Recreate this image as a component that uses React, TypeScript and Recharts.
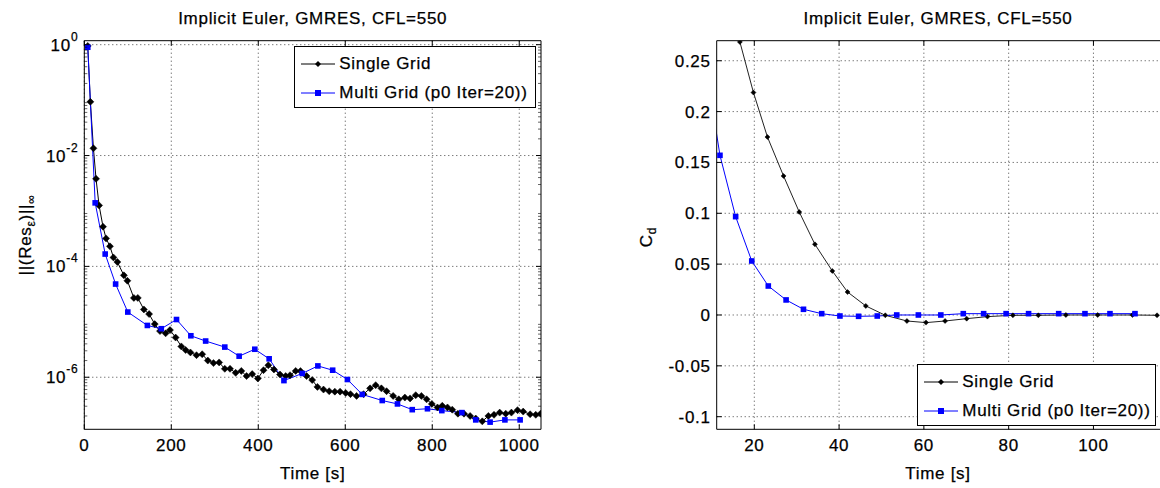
import React from "react";
import { LineChart, Line, XAxis, YAxis, CartesianGrid, Legend } from "recharts";

const FONT = "'Liberation Sans', Arial, Helvetica, sans-serif";
const LS = 0.7;

// ---- left panel: residual history ----
const singleResTime = [8, 14, 21, 27, 34, 43, 50, 59, 67, 76, 91, 99, 114, 123, 137, 149, 162, 174, 187, 197, 210, 223, 233, 244, 258, 271, 284, 297, 310, 323, 335, 348, 361, 373, 386, 399, 412, 423, 436, 450, 463, 473, 486, 497, 511, 524, 536, 550, 563, 576, 588, 601, 612, 626, 642, 657, 670, 683, 695, 710, 723, 737, 749, 762, 775, 787, 799, 812, 823, 835, 846, 859, 873, 887, 900, 915, 929, 942, 955, 969, 982, 996, 1009, 1025, 1038, 1049];
const singleResValue = [0.95, 9.3e-2, 1.35e-2, 3.8e-3, 1.26e-3, 5.2e-4, 3.2e-4, 2.3e-4, 1.45e-4, 1.2e-4, 6.9e-5, 5.5e-5, 2.7e-5, 2.7e-5, 1.67e-5, 1.38e-5, 9.1e-6, 6.8e-6, 6.2e-6, 7.1e-6, 5.2e-6, 3.6e-6, 3.1e-6, 2.8e-6, 2.5e-6, 2.6e-6, 2.0e-6, 1.8e-6, 1.85e-6, 1.42e-6, 1.42e-6, 1.2e-6, 1.3e-6, 1.05e-6, 1.14e-6, 9.5e-7, 1.34e-6, 1.65e-6, 1.38e-6, 1.12e-6, 1.05e-6, 1.09e-6, 1.3e-6, 1.29e-6, 1.05e-6, 8.9e-7, 6.7e-7, 6.0e-7, 5.6e-7, 5.5e-7, 5.5e-7, 5.2e-7, 4.95e-7, 4.6e-7, 4.95e-7, 6.3e-7, 7.2e-7, 6.3e-7, 5.6e-7, 4.6e-7, 4.0e-7, 4.3e-7, 4.15e-7, 4.75e-7, 4.6e-7, 4.0e-7, 3.3e-7, 2.85e-7, 3.05e-7, 2.85e-7, 2.6e-7, 2.2e-7, 2.2e-7, 2.0e-7, 1.8e-7, 1.6e-7, 2.0e-7, 2.1e-7, 2.3e-7, 2.2e-7, 2.3e-7, 2.55e-7, 2.4e-7, 2.15e-7, 2.1e-7, 2.2e-7];

const multiResTime = [8, 25, 48, 72, 100, 145, 177, 212, 245, 279, 323, 356, 392, 425, 459, 501, 537, 571, 605, 639, 685, 720, 754, 789, 822, 868, 900, 933, 967, 1002];
const multiResValue = [0.9, 1.4e-3, 1.67e-4, 4.8e-5, 1.5e-5, 8.6e-6, 7.5e-6, 1.1e-5, 5.6e-6, 4.5e-6, 3.5e-6, 2.4e-6, 3.2e-6, 2.15e-6, 8.7e-7, 1.17e-6, 1.6e-6, 1.34e-6, 9.1e-7, 4.9e-7, 3.8e-7, 3.3e-7, 2.6e-7, 2.7e-7, 2.5e-7, 2.3e-7, 1.7e-7, 1.55e-7, 1.7e-7, 1.7e-7];

const resMajorTicks = [1e-6, 1e-4, 1e-2, 1];
const resMinorFactors = [2, 3, 4, 5, 6, 7, 8, 9];
const resDecades = [1e-7, 1e-6, 1e-5, 1e-4, 1e-3, 1e-2, 1e-1];
const resTimeTicks = [0, 200, 400, 600, 800, 1000];

// ---- right panel: drag coefficient ----
const singleCdTime = [16.6, 19.8, 23.1, 26.9, 30.6, 34.3, 38.4, 42.0, 46.3, 50.9, 56.0, 60.5, 65.0, 70.1, 75.0, 81.0, 87.0, 93.5, 101, 109.2, 115];
const singleCdValue = [0.2685, 0.2187, 0.175, 0.1367, 0.1013, 0.0695, 0.0433, 0.0226, 0.0089, -0.0003, -0.0059, -0.0075, -0.0059, -0.0036, -0.0016, -0.0003, -0.0003, 0, 0, 0, -0.0003];

const multiCdTime = [8.2, 11.9, 15.6, 19.4, 23.3, 27.5, 31.6, 35.9, 40.2, 44.6, 49.0, 53.6, 58.7, 64.0, 69.3, 74.1, 79.4, 84.7, 91.8, 98.0, 103.9, 109.8];
const multiCdValue = [0.255, 0.157, 0.0967, 0.0531, 0.0285, 0.0148, 0.0056, 0.0013, -0.001, -0.0013, -0.001, 0, 0, 0, 0.0013, 0.0013, 0.0013, 0.0013, 0.0013, 0.0013, 0.0013, 0.0013];

const cdTicks = [-0.1, -0.05, 0, 0.05, 0.1, 0.15, 0.2, 0.25];
const cdTimeTicks = [20, 40, 60, 80, 100];

const SERIES_SINGLE = "Single Grid";
const SERIES_MULTI = "Multi Grid (p0 Iter=20))";
const SERIES_ORDER = [SERIES_SINGLE, SERIES_MULTI];
const BLUE = "#0000ff";

const zip = (ts: number[], vs: number[]) => ts.map((t, i) => ({ t, v: vs[i] }));
const singleRes = zip(singleResTime, singleResValue);
const multiRes = zip(multiResTime, multiResValue);
const singleCd = zip(singleCdTime, singleCdValue);
const multiCd = zip(multiCdTime, multiCdValue);

const resMinorTicks = resDecades.flatMap((d) => resMinorFactors.map((f) => f * d)).filter((v) => v > 1.15e-7 && v < 1.18);
const resAllTicks = [...resMajorTicks, ...resMinorTicks].sort((a, b) => a - b);
const isMajor = (v: number) => resMajorTicks.some((m) => Math.abs(m - v) / m < 1e-9);

const diamondDot = (r: number, color: string) => (p: any) => {
  const { cx, cy, index } = p;
  if (cx == null || cy == null) return <g key={index} />;
  return <path key={index} d={`M${cx},${cy - r}L${cx + r},${cy}L${cx},${cy + r}L${cx - r},${cy}Z`} fill={color} stroke={color} strokeWidth={0.5} />;
};
const squareDot = (r: number, color: string) => (p: any) => {
  const { cx, cy, index } = p;
  if (cx == null || cy == null) return <g key={index} />;
  return <rect key={index} x={cx - r} y={cy - r} width={2 * r} height={2 * r} fill={color} />;
};

const textStyle = { fontFamily: FONT, fontSize: 17, letterSpacing: LS, fill: "#000", stroke: "#000", strokeWidth: 0.25 } as const;

// inward tick marks, MATLAB style
const BottomTick = (props: any) => {
  const { x, y, payload } = props;
  return (
    <g>
      <line x1={x} y1={y} x2={x} y2={y - 5} stroke="#000" />
      <text x={x} y={y + 22} textAnchor="middle" style={textStyle}>{payload.value}</text>
    </g>
  );
};
const TopTick = (props: any) => {
  const { x, y } = props;
  return <line x1={x} y1={y} x2={x} y2={y + 5} stroke="#000" />;
};
const LogLeftTick = (props: any) => {
  const { x, y, payload } = props;
  const v = payload.value;
  const major = isMajor(v);
  return (
    <g>
      <line x1={x} y1={y} x2={x + (major ? 5 : 3)} y2={y} stroke="#000" strokeOpacity={major ? 1 : 0.6} />
      {major && (
        <text x={x - 6} y={y + 6} textAnchor="end" style={textStyle}>
          10<tspan dy={-10} fontSize={12}>{Math.round(Math.log10(v))}</tspan>
        </text>
      )}
    </g>
  );
};
const LogRightTick = (props: any) => {
  const { x, y, payload } = props;
  const major = isMajor(payload.value);
  return <line x1={x} y1={y} x2={x - (major ? 5 : 3)} y2={y} stroke="#000" strokeOpacity={major ? 1 : 0.6} />;
};
const LinLeftTick = (props: any) => {
  const { x, y, payload } = props;
  return (
    <g>
      <line x1={x} y1={y} x2={x + 5} y2={y} stroke="#000" />
      <text x={x - 6} y={y + 6} textAnchor="end" style={textStyle}>{String(payload.value)}</text>
    </g>
  );
};

const LegendBox = (props: any) => {
  const items = [...(props.payload || [])].sort((a: any, b: any) => SERIES_ORDER.indexOf(a.value) - SERIES_ORDER.indexOf(b.value));
  return (
    <div style={{ width: "100%", height: "100%", boxSizing: "border-box", border: "1px solid #000", background: "#fff", paddingTop: 2, fontFamily: FONT, fontSize: 17, letterSpacing: LS, WebkitTextStroke: "0.25px #000" }}>
      {items.map((it: any) => {
        const multi = it.value === SERIES_MULTI;
        const color = multi ? BLUE : "#000";
        return (
          <div key={it.value} style={{ height: 29, display: "flex", alignItems: "center", paddingLeft: 6 }}>
            <svg width={38} height={12} style={{ flex: "none" }}>
              <line x1={0} y1={6} x2={34} y2={6} stroke={color} />
              {multi ? <rect x={14} y={3} width={6} height={6} fill={color} /> : <path d="M17,3L20,6L17,9L14,6Z" fill={color} />}
            </svg>
            <span style={{ whiteSpace: "nowrap" }}>{it.value}</span>
          </div>
        );
      })}
    </div>
  );
};

function ResidualChart() {
  return (
    <LineChart width={560} height={488} margin={{ top: 39.7, right: 18, bottom: 28.7, left: 24.3 }}>
      <CartesianGrid stroke="#444" strokeDasharray="1 3" horizontalValues={resMajorTicks} verticalValues={resTimeTicks} />
      <XAxis xAxisId={0} type="number" dataKey="t" domain={[0, 1050]} allowDataOverflow ticks={resTimeTicks} interval={0} height={30} tickSize={0} tickMargin={0} tickLine={false} axisLine={{ stroke: "#000" }} tick={BottomTick} />
      <XAxis xAxisId="top" orientation="top" type="number" dataKey="t" domain={[0, 1050]} allowDataOverflow ticks={resTimeTicks} interval={0} height={1} tickSize={0} tickMargin={0} tickLine={false} axisLine={{ stroke: "#000" }} tick={TopTick} />
      <YAxis yAxisId={0} type="number" scale="log" dataKey="v" domain={[1.15e-7, 1.18]} allowDataOverflow ticks={resAllTicks} interval={0} width={60} tickSize={0} tickMargin={0} tickLine={false} axisLine={{ stroke: "#000" }} tick={LogLeftTick} />
      <YAxis yAxisId="right" orientation="right" type="number" scale="log" dataKey="v" domain={[1.15e-7, 1.18]} allowDataOverflow ticks={resAllTicks} interval={0} width={1} tickSize={0} tickMargin={0} tickLine={false} axisLine={{ stroke: "#000" }} tick={LogRightTick} />
      <Legend layout="horizontal" verticalAlign="middle" align="center" wrapperStyle={{ left: 294.3, top: 46, width: 242, height: 62 }} content={LegendBox} />
      <Line data={singleRes} dataKey="v" name={SERIES_SINGLE} stroke="#000" strokeWidth={1} dot={diamondDot(3.5, "#000")} isAnimationActive={false} legendType="line" />
      <Line data={multiRes} dataKey="v" name={SERIES_MULTI} stroke={BLUE} strokeWidth={1} dot={squareDot(2.8, BLUE)} isAnimationActive={false} legendType="line" />
    </LineChart>
  );
}

function DragChart() {
  return (
    <LineChart width={560} height={488} margin={{ top: 39.7, right: 0, bottom: 28.7, left: 56.7 }}>
      <CartesianGrid stroke="#444" strokeDasharray="1 3" horizontalValues={cdTicks} verticalValues={cdTimeTicks} />
      <XAxis xAxisId={0} type="number" dataKey="t" domain={[11.13, 115.7]} allowDataOverflow ticks={cdTimeTicks} interval={0} height={30} tickSize={0} tickMargin={0} tickLine={false} axisLine={{ stroke: "#000" }} tick={BottomTick} />
      <XAxis xAxisId="top" orientation="top" type="number" dataKey="t" domain={[11.13, 115.7]} allowDataOverflow ticks={cdTimeTicks} interval={0} height={1} tickSize={0} tickMargin={0} tickLine={false} axisLine={{ stroke: "#000" }} tick={TopTick} />
      <YAxis yAxisId={0} type="number" dataKey="v" domain={[-0.1124, 0.2697]} allowDataOverflow ticks={cdTicks} interval={0} width={60} tickSize={0} tickMargin={0} tickLine={false} axisLine={{ stroke: "#000" }} tick={LinLeftTick} />
      <Legend layout="horizontal" verticalAlign="middle" align="center" wrapperStyle={{ left: 317.3, top: 364.3, width: 239, height: 61.4 }} content={LegendBox} />
      <Line data={singleCd} dataKey="v" name={SERIES_SINGLE} stroke="#222" strokeWidth={1} dot={diamondDot(2.5, "#000")} isAnimationActive={false} legendType="line" />
      <Line data={multiCd} dataKey="v" name={SERIES_MULTI} stroke={BLUE} strokeWidth={1} dot={squareDot(2.8, BLUE)} isAnimationActive={false} legendType="line" />
    </LineChart>
  );
}

export default function App() {
  return (
    <div style={{ position: "absolute", left: 0, top: 0, width: 1160, height: 488, background: "#fff", overflow: "hidden" }}>
      <div style={{ position: "absolute", left: 0, top: 0 }}>
        <ResidualChart />
      </div>
      <div style={{ position: "absolute", left: 600, top: 0 }}>
        <DragChart />
      </div>
      <svg width={1160} height={488} style={{ position: "absolute", left: 0, top: 0, pointerEvents: "none" }}>
        <text x={312.7} y={24} textAnchor="middle" style={textStyle}>Implicit Euler, GMRES, CFL=550</text>
        <text x={938} y={24} textAnchor="middle" style={textStyle}>Implicit Euler, GMRES, CFL=550</text>
        <text x={312.7} y={479} textAnchor="middle" style={textStyle}>Time [s]</text>
        <text x={938} y={479} textAnchor="middle" style={textStyle}>Time [s]</text>
        <text transform="translate(31,235) rotate(-90)" textAnchor="middle" style={textStyle}>
          ||(Res<tspan dy={4} fontSize={12}>ε</tspan><tspan dy={-4}>)||</tspan><tspan dy={4} fontSize={12}>∞</tspan>
        </text>
        <text transform="translate(652,237) rotate(-90)" textAnchor="middle" style={textStyle}>
          C<tspan dy={4} fontSize={12}>d</tspan>
        </text>
      </svg>
    </div>
  );
}
